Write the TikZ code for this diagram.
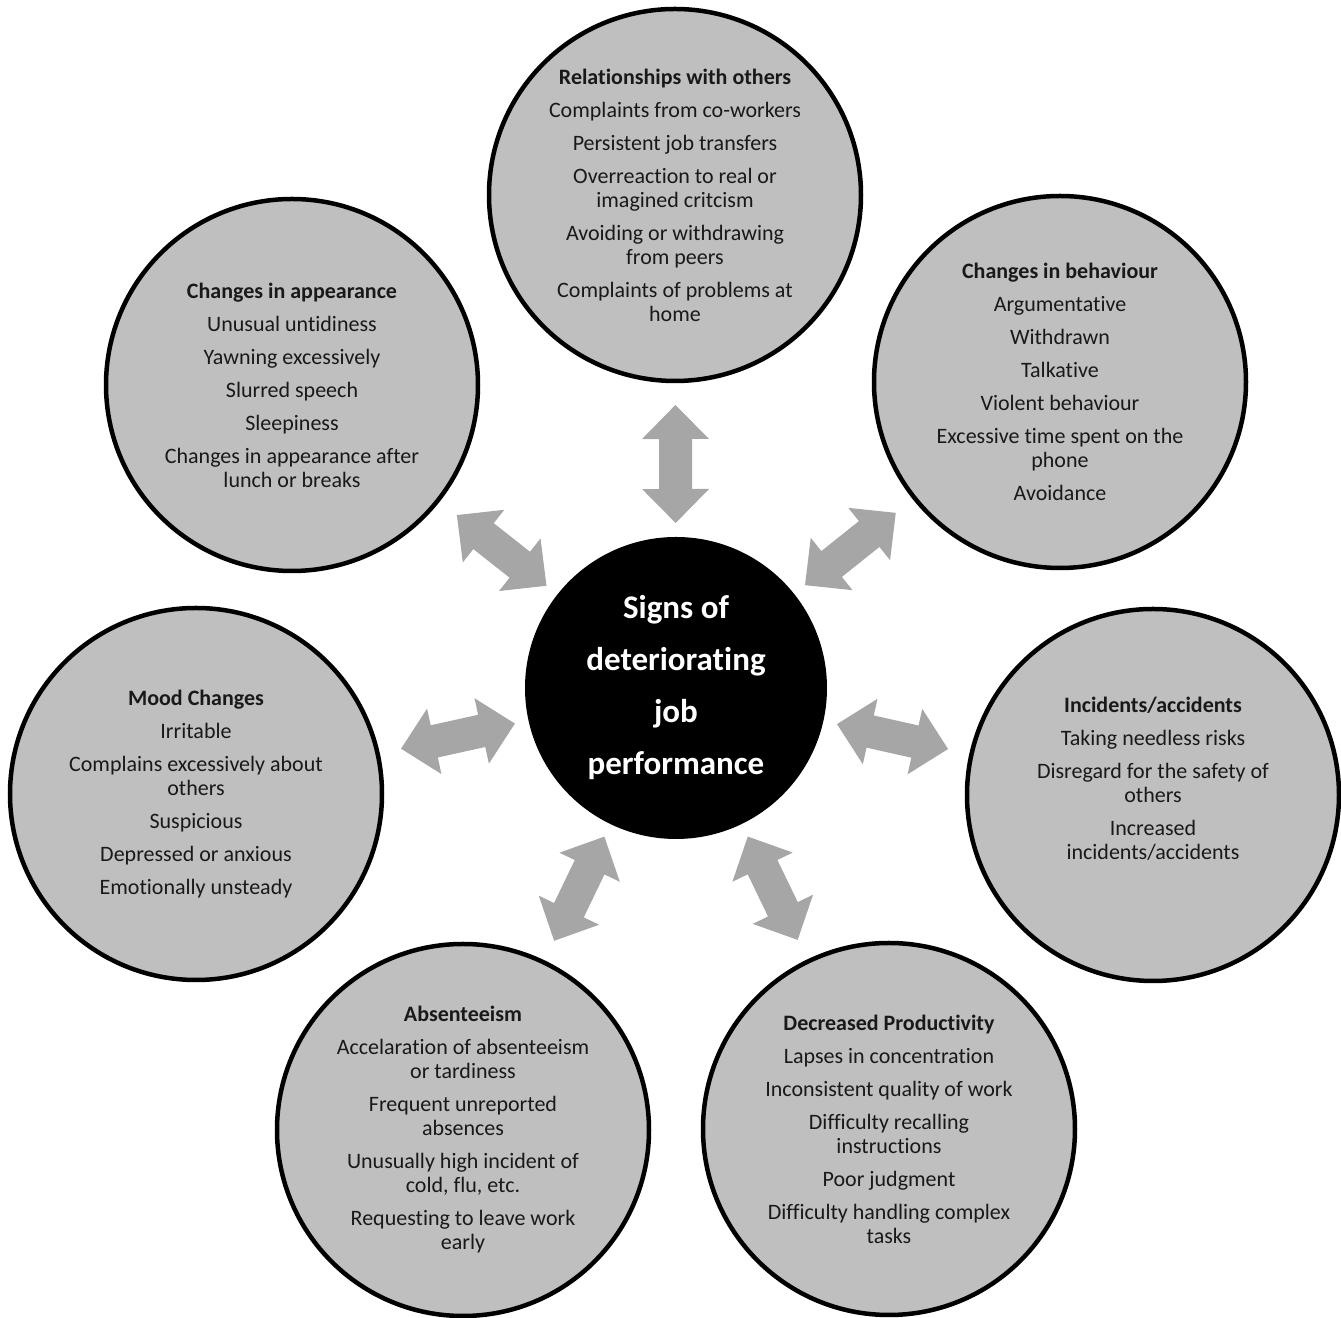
\documentclass[tikz,border=0pt]{standalone}
\usepackage{fontspec}
\setmainfont[RawFeature={-liga;-clig;-calt;-dlig;-rlig;-ccmp}]{Carlito}
\usetikzlibrary{calc}
\definecolor{circgray}{HTML}{BFBFBF}
\definecolor{arrowgray}{HTML}{A6A6A6}

\begin{document}
\begin{tikzpicture}[x=1pt,y=1pt,
  sign/.style={circle,draw=black,line width=2.25pt,fill=circgray,minimum size=186pt,
    inner sep=0pt,align=center,text=black!90,font=\fontsize{11}{12}\selectfont},
  hubnode/.style={circle,fill=black,minimum size=151pt,inner sep=0pt,align=center,
    text=white,font=\fontsize{16.5}{26}\selectfont\bfseries},
  fatarrow/.style={fill=arrowgray}]
\useasboundingbox (0,0) rectangle (670.5,659);

% Centre
\node[hubnode] (hub) at (338,315) {Signs of\\deteriorating\\job\\performance};

% Signs around the centre
\node[sign] (rel) at (337.5,561.5) {\textbf{Relationships with others}\\[4.5pt]
  Complaints from co-workers\\[4.5pt]
  Persistent job transfers\\[4.5pt]
  Overreaction to real or\\imagined critcism\\[4.5pt]
  Avoiding or withdrawing\\from peers\\[4.5pt]
  Complaints of problems at\\home};

\node[sign] (app) at (146,466.5) {\textbf{Changes in appearance}\\[4.5pt]
  Unusual untidiness\\[4.5pt]
  Yawning excessively\\[4.5pt]
  Slurred speech\\[4.5pt]
  Sleepiness\\[4.5pt]
  Changes in appearance after\\lunch or breaks};

\node[sign] (beh) at (530,468) {\textbf{Changes in behaviour}\\[4.5pt]
  Argumentative\\[4.5pt]
  Withdrawn\\[4.5pt]
  Talkative\\[4.5pt]
  Violent behaviour\\[4.5pt]
  Excessive time spent on the\\phone\\[4.5pt]
  Avoidance};

\node[sign] (mood) at (98,262) {\textbf{Mood Changes}\\[4.5pt]
  Irritable\\[4.5pt]
  Complains excessively about\\others\\[4.5pt]
  Suspicious\\[4.5pt]
  Depressed or anxious\\[4.5pt]
  Emotionally unsteady};

\node[sign] (inc) at (576.5,261.5) {\textbf{Incidents/accidents}\\[4.5pt]
  Taking needless risks\\[4.5pt]
  Disregard for the safety of\\others\\[4.5pt]
  Increased\\incidents/accidents\\[4.5pt]
  \mbox{}};

\node[sign] (abs) at (231.5,94) {\textbf{Absenteeism}\\[4.5pt]
  Accelaration of absenteeism\\or tardiness\\[4.5pt]
  Frequent unreported\\absences\\[4.5pt]
  Unusually high incident of\\cold, flu, etc.\\[4.5pt]
  Requesting to leave work\\early};

\node[sign] (prod) at (444.5,94.5) {\textbf{Decreased Productivity}\\[4.5pt]
  Lapses in concentration\\[4.5pt]
  Inconsistent quality of work\\[4.5pt]
  Difficulty recalling\\instructions\\[4.5pt]
  Poor judgment\\[4.5pt]
  Difficulty handling complex\\tasks};

% Two-way arrows: tips n (centre side) and f (sign side)
\foreach \sgn in {rel,app,beh,mood,inc,abs,prod}{
  \coordinate (n) at ($(hub.center)!82.5pt!(\sgn.center)$);
  \coordinate (f) at ($(\sgn.center)!105pt!(hub.center)$);
  \coordinate (hn) at ($(n)!17pt!(f)$);
  \coordinate (hf) at ($(f)!17pt!(n)$);
  \fill[fatarrow] (n) -- ($(hn)!16.75pt!90:(f)$) -- ($(hn)!8.25pt!90:(f)$)
    -- ($(hf)!8.25pt!-90:(n)$) -- ($(hf)!16.75pt!-90:(n)$) -- (f)
    -- ($(hf)!16.75pt!90:(n)$) -- ($(hf)!8.25pt!90:(n)$)
    -- ($(hn)!8.25pt!-90:(f)$) -- ($(hn)!16.75pt!-90:(f)$) -- cycle;
}
\end{tikzpicture}
\end{document}
